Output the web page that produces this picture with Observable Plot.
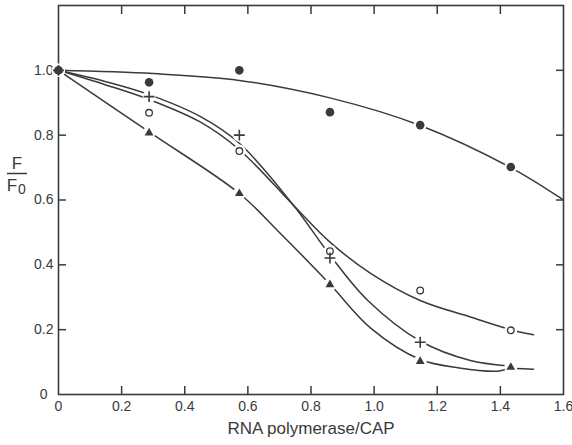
<!DOCTYPE html>
<html><head><meta charset="utf-8">
<script src="https://cdn.jsdelivr.net/npm/d3@7"></script>
<script src="https://cdn.jsdelivr.net/npm/@observablehq/plot@0.6"></script>
<style>html,body{margin:0;padding:0;background:#fff}</style>
</head><body><div id="chart"></div>
<script>
// measured ratios (x) and F/F0 values per series
const xLevels = [0, 0.287, 0.573, 0.86, 1.146, 1.433];
const filledY = [1.0, 0.963, 1.0, 0.871, 0.831, 0.702];
const openY   = [1.0, 0.869, 0.751, 0.442, 0.321, 0.198];
const plusY   = [1.0, 0.919, 0.80, 0.421, 0.161, null];
const triY    = [1.0, 0.807, 0.62, 0.339, 0.102, 0.084];

// hand-drawn fitted curves
const filledCurveX = [0, 0.3, 0.573, 0.86, 1.146, 1.433, 1.6];
const filledCurveY = [1.0, 0.99, 0.969, 0.915, 0.83, 0.70, 0.60];
const openCurveX = [0, 0.15, 0.287, 0.45, 0.573, 0.745, 0.86, 0.99, 1.146, 1.305, 1.433, 1.505];
const openCurveY = [1.0, 0.955, 0.91, 0.84, 0.755, 0.583, 0.47, 0.373, 0.29, 0.239, 0.2, 0.184];
const plusCurveX = [0, 0.15, 0.287, 0.45, 0.573, 0.745, 0.86, 0.98, 1.146, 1.305, 1.433];
const plusCurveY = [1.0, 0.965, 0.925, 0.857, 0.775, 0.583, 0.43, 0.29, 0.165, 0.105, 0.088];
const triCurveX = [0, 0.287, 0.573, 0.7, 0.86, 0.99, 1.146, 1.27, 1.39, 1.433, 1.505];
const triCurveY = [1.0, 0.81, 0.62, 0.5, 0.34, 0.204, 0.108, 0.082, 0.072, 0.08, 0.078];

const xTickVals = [0.2, 0.4, 0.6, 0.8, 1.0, 1.2, 1.4];
const yTickVals = [0.2, 0.4, 0.6, 0.8, 1.0];
const xLabelVals = [0, 0.2, 0.4, 0.6, 0.8, 1.0, 1.2, 1.4, 1.6];
const yLabelVals = [0.2, 0.4, 0.6, 0.8, 1.0];
const xTitle = "RNA polymerase/CAP";

const ink = "#3a3a3a";
const pts = (ys) => xLevels.map((x, i) => ({x, y: ys[i]})).filter(d => d.y != null);
const crv = (xs, ys) => xs.map((x, i) => ({x, y: ys[i]}));
const allPts = [...pts(filledY), ...pts(openY), ...pts(plusY), ...pts(triY)];

const lineOpts = {x: "x", y: "y", curve: "catmull-rom", stroke: ink, strokeWidth: 1.5};

const svg = Plot.plot({
  width: 572, height: 445,
  marginLeft: 58, marginRight: 9, marginTop: 5, marginBottom: 51,
  style: {fontFamily: "'Liberation Sans', Arial, sans-serif", fontSize: "14px", color: ink, background: "#fff"},
  x: {domain: [0, 1.6]},
  y: {domain: [0, 1.2]},
  marks: [
    Plot.frame({stroke: ink, strokeWidth: 1.6}),
    Plot.axisX(xTickVals, {anchor: "bottom", tickSize: -8, fill: "none", stroke: ink, strokeWidth: 1.5, label: null}),
    Plot.axisX(xTickVals, {anchor: "top", tickSize: -8, fill: "none", stroke: ink, strokeWidth: 1.5, label: null}),
    Plot.axisY(yTickVals, {anchor: "left", tickSize: -8, fill: "none", stroke: ink, strokeWidth: 1.5, label: null}),
    Plot.axisY(yTickVals, {anchor: "right", tickSize: -8, fill: "none", stroke: ink, strokeWidth: 1.5, label: null}),
    Plot.axisX(xLabelVals, {anchor: "bottom", tickSize: 0, tickPadding: 7, fill: ink, fontSize: 14, label: null,
      tickFormat: d => d === 0 ? "0" : d.toFixed(1)}),
    Plot.axisY(yLabelVals, {anchor: "left", tickSize: 0, tickPadding: 5, fill: ink, fontSize: 14, label: null,
      tickFormat: d => d.toFixed(1)}),
    Plot.axisY([0], {anchor: "left", tickSize: 0, tickPadding: 11, fill: ink, fontSize: 14, label: null,
      tickFormat: () => "0"}),
    Plot.text([xTitle], {frameAnchor: "bottom", dy: 39, fontSize: 17, fill: ink}),
    Plot.line(crv(filledCurveX, filledCurveY), lineOpts),
    Plot.line(crv(openCurveX, openCurveY), lineOpts),
    Plot.line(crv(plusCurveX, plusCurveY), lineOpts),
    Plot.line(crv(triCurveX, triCurveY), lineOpts),
    Plot.dot(allPts, {x: "x", y: "y", r: 6.5, fill: "white", stroke: "none"}),
    Plot.dot(pts(openY), {x: "x", y: "y", r: 3.3, fill: "white", stroke: ink, strokeWidth: 1.3}),
    Plot.dot(pts(plusY), {x: "x", y: "y", symbol: "plus", r: 3.6, stroke: ink, strokeWidth: 1.6}),
    Plot.dot(pts(triY), {x: "x", y: "y", symbol: "triangle2", r: 4.2, fill: ink}),
    Plot.dot(pts(filledY), {x: "x", y: "y", r: 4.3, fill: ink})
  ]
});

// y-axis label F / F0 as a stacked fraction
const g = d3.select(svg).append("g").attr("fill", ink).attr("font-size", 17)
  .attr("font-family", "'Liberation Sans', Arial, sans-serif").attr("text-anchor", "middle");
g.append("text").attr("x", 17).attr("y", 169).text("F");
g.append("line").attr("x1", 7).attr("x2", 27).attr("y1", 173.5).attr("y2", 173.5).attr("stroke", ink).attr("stroke-width", 1.5);
g.append("text").attr("x", 12).attr("y", 191).text("F");
g.append("text").attr("x", 22).attr("y", 194).attr("font-size", 14).text("0");

document.getElementById("chart").appendChild(svg);
</script>
</body></html>
